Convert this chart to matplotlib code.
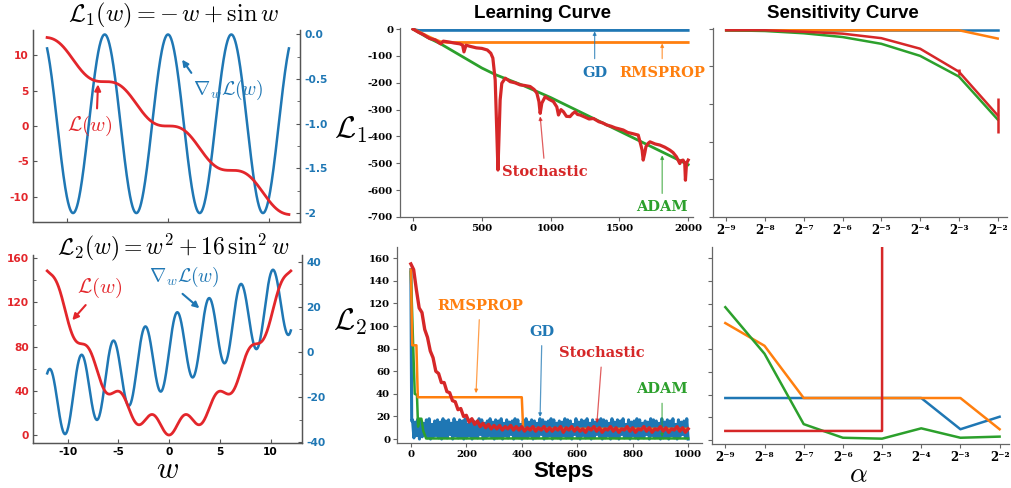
import numpy as np
import matplotlib
matplotlib.use('Agg')
import matplotlib.pyplot as plt
from matplotlib.ticker import MultipleLocator, NullFormatter, NullLocator

plt.rcParams['mathtext.fontset'] = 'cm'
plt.rcParams['axes.unicode_minus'] = False

W, H = 1012, 488

RED = '#e3262b'
BLUE = '#1f77b4'
ORANGE = '#ff7f0e'
GREEN = '#2ca02c'
SRED = '#d62728'

# loss landscapes
w = np.linspace(-12, 12, 800)
loss1 = -w + np.sin(w)
grad1 = -1 + np.cos(w)
loss2 = w ** 2 + 16 * np.sin(w) ** 2
grad2 = 2 * w + 16 * np.sin(2 * w)

# learning curves on L1 (2000 steps)
gd1_steps = [0, 20, 40, 2000]
gd1_vals = [0, -3, -5, -5]
rms1_steps = [0, 50, 100, 150, 200, 250, 2000]
rms1_vals = [0, -12, -25, -37, -47, -50, -50]
adam1_steps = [0, 100, 200, 300, 400, 500, 600, 800, 1000, 1200, 1400, 1600, 1800, 2000]
adam1_vals = [0, -30, -55, -85, -115, -145, -170, -210, -255, -305, -355, -405, -455, -505]
sgd1_steps = [0, 40, 80, 120, 160, 200, 220, 260, 300, 340, 360, 370, 385, 420, 460, 500,
              540, 565, 580, 597, 609, 617, 624, 633, 645, 670, 690, 706, 740, 779, 810,
              851, 880, 900, 915, 924, 936, 960, 990, 1020, 1045, 1057, 1075, 1093, 1115,
              1141, 1160, 1178, 1195, 1214, 1250, 1280, 1311, 1350, 1380, 1407, 1440, 1470,
              1500, 1528, 1560, 1600, 1637, 1655, 1665, 1673, 1685, 1693, 1710, 1722, 1760,
              1794, 1830, 1867, 1890, 1915, 1939, 1950, 1963, 1975, 1980, 1988, 2000]
sgd1_vals = [0, -12, -22, -35, -40, -55, -45, -48, -52, -55, -60, -85, -60, -65, -70, -72,
             -78, -90, -108, -190, -389, -525, -413, -264, -202, -183, -190, -196, -200, -208,
             -210, -214, -225, -239, -270, -314, -276, -252, -262, -270, -290, -320, -300,
             -308, -325, -326, -315, -308, -318, -320, -328, -335, -333, -345, -350, -357,
             -362, -368, -372, -376, -385, -390, -395, -430, -451, -488, -460, -438, -425,
             -420, -428, -432, -440, -451, -460, -476, -501, -490, -488, -500, -563, -500,
             -488]

# learning curves on L2 (1000 steps)
gd2_peaks = [17, 15, 18, 16, 14, 17, 18, 13, 16, 17, 15, 18, 16, 17, 14, 18, 15, 17, 16, 18,
             13, 17, 16, 15, 18, 17, 14, 16, 18, 15, 17, 16, 18, 14, 17, 15, 16, 18, 17, 13,
             16, 18, 15, 17, 16, 14, 18, 17, 15, 16, 18, 17, 14, 16, 15, 18, 17, 16, 13, 18,
             15, 17, 16, 18, 14, 17, 15, 16, 18, 17, 16, 14, 18, 15, 17, 16, 18, 13, 17, 15,
             16, 18, 17, 14, 16, 15, 18, 17, 16, 14, 18, 15, 17, 16, 18, 13, 17, 15, 16, 18]
gd2_troughs = [1, 3, 0, 2, 4, 1, 0, 2, 3, 1, 0, 2, 1, 4, 0, 3, 1, 2, 0, 1,
               3, 0, 2, 1, 4, 0, 1, 3, 2, 0, 1, 2, 0, 3, 1, 4, 0, 2, 1, 0,
               2, 1, 3, 0, 1, 2, 4, 0, 1, 3, 0, 2, 1, 0, 3, 1, 2, 0, 4, 1,
               0, 3, 1, 2, 0, 1, 4, 2, 0, 1, 3, 0, 2, 1, 0, 4, 1, 2, 0, 3,
               1, 0, 2, 1, 4, 0, 3, 1, 2, 0, 1, 2, 0, 3, 1, 0, 2, 4, 1, 0]
rms2_steps = [0, 5, 20, 25, 400, 405, 1000]
rms2_vals = [150, 83, 83, 37, 37, 9, 9]
adam2_steps = [0, 8, 14, 22, 26, 30, 38, 45, 55, 1000]
adam2_vals = [148, 85, 40, 39, 11, 18, 18, 7, 0.5, 0.5]
sgd2_vals = [155, 150, 132, 116, 112, 97, 90, 78, 72, 60, 58, 50, 50, 42, 41, 34, 33, 26, 27,
             20, 21, 15, 18, 13, 16, 11, 14, 10, 13, 9, 12, 9, 12, 8, 11, 9, 12, 8, 11, 8, 11,
             7, 10, 8, 11, 7, 10, 8, 11, 7, 10, 7, 10, 8, 11, 6, 10, 8, 11, 7, 10, 7, 9, 6, 10,
             8, 11, 7, 10, 6, 9, 8, 11, 7, 10, 6, 9, 8, 11, 7, 10, 6, 9, 8, 11, 7, 10, 6, 9, 8,
             11, 7, 10, 6, 9, 8, 11, 7, 10, 6, 9]

# sensitivity to the learning rate alpha = 2^k
alpha_exp = [-9, -8, -7, -6, -5, -4, -3, -2]
sens1_gd = [-3.5, -3.5, -3.5, -3.5, -3.5, -3.5, -3.5, -3.5]
sens1_rms = [-4, -4, -4, -4, -4, -4, -4, -26]
sens1_adam = [-4, -6, -12, -22, -40, -72, -127, -241]
sens1_sgd = [-4, -4, -8, -13, -25, -53, -114, -230]
sens1_sgd_err = [0, 0, 0, 0, 0, 0, 8, 47]
sens2_gd = [37, 37, 37, 37, 37, 37, 9.5, 20.5]
sens2_rms = [103, 83, 37, 37, 37, 37, 37, 9.5]
sens2_adam = [117, 76, 14, 2, 1.2, 10.3, 2, 3]
sens2_sgd = [8, 8, 8, 8, 8, 1e5, np.nan, np.nan]

fig = plt.figure(figsize=(W / 100, H / 100), dpi=100)


def add_axes(left, top, right, bottom):
    return fig.add_axes([left / W, 1 - bottom / H, (right - left) / W, (bottom - top) / H])


def fig_text(x, y, s, **kw):
    fig.text(x / W, 1 - y / H, s, ha='center', va='center', **kw)


SANS_B = dict(fontfamily='DejaVu Sans', fontweight='bold', fontsize=7.7)
SERIF_B = dict(fontfamily='DejaVu Serif', fontweight='bold', fontsize=7.3)


def style_left(ax, tw):
    ax.spines['top'].set_visible(False)
    tw.spines['top'].set_visible(False)
    for a in (ax, tw):
        for s in a.spines.values():
            s.set_color('#555555')
            s.set_linewidth(0.9)
    ax.tick_params(axis='both', which='both', direction='in', length=3, color='#555555', pad=3)
    ax.tick_params(which='minor', length=2)
    tw.tick_params(which='both', direction='in', length=3, color='#555555', pad=3)
    tw.tick_params(which='minor', length=2)
    ax.set_zorder(tw.get_zorder() + 1)
    ax.patch.set_visible(False)


def style_mid(ax):
    for s in ('top', 'right'):
        ax.spines[s].set_visible(False)
    for s in ('left', 'bottom'):
        ax.spines[s].set_color('#666666')
        ax.spines[s].set_linewidth(0.9)
    ax.tick_params(direction='out', length=3, width=0.8, color='#666666', pad=2)


# ---- top left: L1 landscape ----
ax = add_axes(33, 30, 300, 222)
tw = ax.twinx()
ax.plot(w, loss1, color=RED, lw=2.0)
tw.plot(w, grad1, color=BLUE, lw=1.8)
ax.set_xlim(-13.4, 13.1)
ax.set_ylim(-13.6, 13.6)
tw.set_ylim(-2.1, 0.05)
ax.set_xticks([-10, 0, 10])
ax.xaxis.set_major_formatter(NullFormatter())
ax.set_yticks([-10, -5, 0, 5, 10])
ax.set_yticklabels(['-10', '-5', '0', '5', '10'], color=RED, **SANS_B)
tw.set_yticks([-2, -1.5, -1, -0.5, 0])
tw.set_yticklabels(['-2', '-1.5', '-1.0', '-0.5', '0.0'], color=BLUE, **SANS_B)
tw.yaxis.set_minor_locator(MultipleLocator(0.25))
style_left(ax, tw)
ax.annotate(r'$\mathcal{L}(w)$', xy=(-6.95, 5.9), xytext=(-7.74, 0.0), color=RED,
            fontsize=15, ha='center', va='center',
            arrowprops=dict(arrowstyle='-|>', color=RED, lw=1.5, mutation_scale=9,
                            relpos=(0.65, 1.0), shrinkA=2, shrinkB=0))
ax.annotate(r'$\nabla_w\mathcal{L}(w)$', xy=(1.4, 9.4), xytext=(5.96, 5.1), color=BLUE,
            fontsize=14, ha='center', va='center',
            arrowprops=dict(arrowstyle='-|>', color=BLUE, lw=1.5, mutation_scale=9,
                            relpos=(0.03, 1.0), shrinkA=2, shrinkB=0))
fig_text(173, 15, r'$\mathcal{L}_1(w) = -\,w + \sin w$', fontsize=17.5)

# ---- bottom left: L2 landscape ----
ax = add_axes(33, 255, 302, 443)
tw = ax.twinx()
ax.plot(w, loss2, color=RED, lw=2.0)
tw.plot(w, grad2, color=BLUE, lw=1.8)
ax.set_xlim(-13.4, 13.1)
ax.set_ylim(-7.2, 163)
tw.set_ylim(-40.4, 43)
ax.set_xticks([-10, -5, 0, 5, 10])
ax.set_xticklabels(['-10', '-5', '0', '5', '10'], **SANS_B)
ax.set_yticks([0, 40, 80, 120, 160])
ax.set_yticklabels(['0', '40', '80', '120', '160'], color=RED, **SANS_B)
ax.yaxis.set_minor_locator(MultipleLocator(20))
tw.set_yticks([-40, -20, 0, 20, 40])
tw.set_yticklabels(['-40', '-20', '0', '20', '40'], color=BLUE, **SANS_B)
tw.yaxis.set_minor_locator(MultipleLocator(10))
style_left(ax, tw)
ax.annotate(r'$\mathcal{L}(w)$', xy=(-9.53, 104), xytext=(-6.85, 133), color=RED,
            fontsize=15, ha='center', va='center',
            arrowprops=dict(arrowstyle='-|>', color=RED, lw=1.5, mutation_scale=9,
                            relpos=(0.29, 0.0), shrinkA=2, shrinkB=0))
ax.annotate(r'$\nabla_w\mathcal{L}(w)$', xy=(2.99, 114.8), xytext=(1.5, 142.9), color=BLUE,
            fontsize=14, ha='center', va='center',
            arrowprops=dict(arrowstyle='-|>', color=BLUE, lw=1.5, mutation_scale=9,
                            relpos=(0.4, 0.0), shrinkA=2, shrinkB=0))
fig_text(173, 247, r'$\mathcal{L}_2(w) = w^2 + 16\,\sin^2 w$', fontsize=17)
fig_text(168, 470, r'$w$', fontsize=22)


def label_arrow(ax, text, color, xy, xytext):
    ax.annotate(text, xy=xy, xytext=xytext, color=color, ha='center', va='center',
                fontfamily='DejaVu Serif', fontweight='bold', fontsize=10.5,
                arrowprops=dict(arrowstyle='-|>', color=color, lw=0.9, alpha=0.75,
                                mutation_scale=5, shrinkA=3, shrinkB=0))


# ---- top middle: learning curve on L1 ----
ax = add_axes(400, 28, 693, 217)
ax.plot(gd1_steps, gd1_vals, color=BLUE, lw=2.0, zorder=3)
ax.plot(rms1_steps, rms1_vals, color=ORANGE, lw=2.0, zorder=3)
ax.plot(adam1_steps, adam1_vals, color=GREEN, lw=2.0, zorder=3)
ax.plot(sgd1_steps, sgd1_vals, color=SRED, lw=2.3, zorder=4)
ax.set_xlim(-95, 2035)
ax.set_ylim(-700, 4)
xt = [0, 500, 1000, 1500, 2000]
ax.set_xticks(xt)
ax.set_xticklabels([str(v) for v in xt], **SERIF_B)
yt = [-700, -600, -500, -400, -300, -200, -100, 0]
ax.set_yticks(yt)
ax.set_yticklabels([str(v) for v in yt], **SERIF_B)
style_mid(ax)
label_arrow(ax, 'GD', BLUE, (1320, -8), (1320, -162))
label_arrow(ax, 'RMSPROP', ORANGE, (1811, -53), (1811, -162))
label_arrow(ax, 'Stochastic', SRED, (924, -325), (960, -533))
label_arrow(ax, 'ADAM', GREEN, (1811, -470), (1811, -664))
fig_text(543, 13, 'Learning Curve', fontfamily='Liberation Sans', fontweight='bold', fontsize=13.5)
fig_text(351, 130, r'$\mathcal{L}_1$', fontsize=22)

# ---- bottom middle: learning curve on L2 ----
ax = add_axes(397, 247, 702, 443)
gd2_steps = np.concatenate([[0, 3], np.linspace(6, 1000, 2 * len(gd2_peaks))])
gd2_vals = np.concatenate([[150, 16], np.column_stack([gd2_peaks, gd2_troughs]).ravel()])
sgd2_steps = np.linspace(0, 1000, len(sgd2_vals))
ax.plot(gd2_steps, gd2_vals, color=BLUE, lw=2.2, zorder=2)
ax.plot(adam2_steps, adam2_vals, color=GREEN, lw=1.8, zorder=3)
ax.plot(rms2_steps, rms2_vals, color=ORANGE, lw=1.8, zorder=3)
ax.plot(sgd2_steps, sgd2_vals, color=SRED, lw=2.4, zorder=4)
ax.set_xlim(-50, 1050)
ax.set_ylim(-3.5, 170)
xt = [0, 200, 400, 600, 800, 1000]
ax.set_xticks(xt)
ax.set_xticklabels([str(v) for v in xt], **SERIF_B)
yt = list(range(0, 161, 20))
ax.set_yticks(yt)
ax.set_yticklabels([str(v) for v in yt], **SERIF_B)
style_mid(ax)
label_arrow(ax, 'RMSPROP', ORANGE, (235, 40.5), (249, 118))
label_arrow(ax, 'GD', BLUE, (466, 19.5), (473, 95))
label_arrow(ax, 'Stochastic', SRED, (671, 14), (690, 76))
label_arrow(ax, 'ADAM', GREEN, (906, 1.5), (906, 44))
fig_text(564, 472, 'Steps', fontfamily='Liberation Sans', fontweight='bold', fontsize=16)
fig_text(350, 322, r'$\mathcal{L}_2$', fontsize=22)

# ---- sensitivity curves ----
alphas = 2.0 ** np.array(alpha_exp)
alpha_labels = ['2⁻' + '⁰¹²³⁴⁵⁶⁷⁸⁹'[-k] for k in alpha_exp]


def style_sens(ax):
    ax.set_xscale('log', base=2)
    ax.set_xlim(2 ** -9.34, 2 ** -1.76)
    ax.set_xticks(alphas)
    ax.set_xticklabels(alpha_labels, fontfamily='DejaVu Serif', fontweight='bold', fontsize=8.5)
    ax.xaxis.set_minor_locator(NullLocator())
    style_mid(ax)


ax = add_axes(713, 28, 1007, 217)
ax.plot(alphas, sens1_gd, color=BLUE, lw=1.8)
ax.plot(alphas, sens1_rms, color=ORANGE, lw=1.8)
ax.plot(alphas, sens1_adam, color=GREEN, lw=1.8)
ax.errorbar(alphas, sens1_sgd, yerr=sens1_sgd_err, color=SRED, lw=1.8, elinewidth=1.8, capsize=0)
ax.set_ylim(-500, 2)
ax.set_yticks([-500, -400, -300, -200, -100, 0])
ax.yaxis.set_major_formatter(NullFormatter())
style_sens(ax)
fig_text(843, 13, 'Sensitivity Curve', fontfamily='Liberation Sans', fontweight='bold', fontsize=13.5)

ax = add_axes(712, 247, 1009, 444)
ax.plot(alphas, sens2_gd, color=BLUE, lw=1.8)
ax.plot(alphas, sens2_rms, color=ORANGE, lw=1.8)
ax.plot(alphas, sens2_adam, color=GREEN, lw=1.8)
ax.plot(alphas, sens2_sgd, color=SRED, lw=1.8)
ax.set_ylim(-3.5, 170)
ax.set_yticks(list(range(0, 161, 20)))
ax.yaxis.set_major_formatter(NullFormatter())
style_sens(ax)
fig_text(858, 474, r'$\alpha$', fontsize=20)

fig.savefig('out.png', dpi=100)
